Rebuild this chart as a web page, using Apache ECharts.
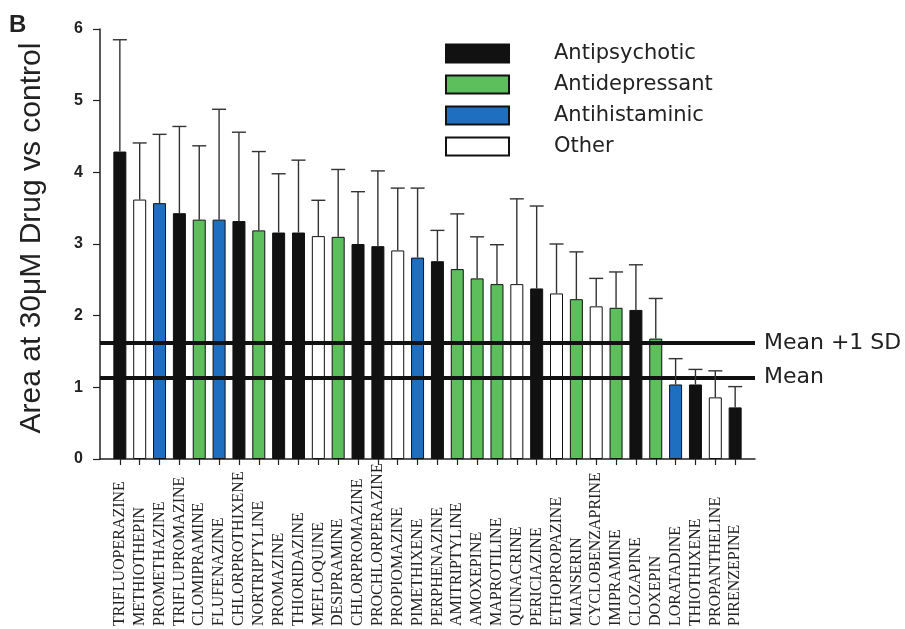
<!DOCTYPE html>
<html>
<head>
<meta charset="utf-8">
<script src="https://cdn.jsdelivr.net/npm/echarts@6/dist/echarts.min.js"></script>
<style>
  html, body { margin: 0; padding: 0; background: #fff; }
  #chart { width: 905px; height: 629px; }
</style>
</head>
<body>
<div id="chart"></div>
<script>
// 数据：药物名称、均值、误差上端、类别
var drugs = ['TRIFLUOPERAZINE', 'METHIOTHEPIN', 'PROMETHAZINE', 'TRIFLUPROMAZINE', 'CLOMIPRAMINE',
  'FLUFENAZINE', 'CHLORPROTHIXENE', 'NORTRIPTYLINE', 'PROMAZINE', 'THIORIDAZINE', 'MEFLOQUINE',
  'DESIPRAMINE', 'CHLORPROMAZINE', 'PROCHLORPERAZINE', 'PROPIOMAZINE', 'PIMETHIXENE', 'PERPHENAZINE',
  'AMITRIPTYLINE', 'AMOXEPINE', 'MAPROTILINE', 'QUINACRINE', 'PERICIAZINE', 'ETHOPROPAZINE',
  'MIANSERIN', 'CYCLOBENZAPRINE', 'IMIPRAMINE', 'CLOZAPINE', 'DOXEPIN', 'LORATADINE', 'THIOTHIXENE',
  'PROPANTHELINE', 'PIRENZEPINE'];
var means = [4.29, 3.62, 3.57, 3.43, 3.34, 3.34, 3.32, 3.19, 3.16, 3.16, 3.11, 3.10, 3.00, 2.97, 2.91,
  2.81, 2.76, 2.65, 2.52, 2.44, 2.44, 2.38, 2.31, 2.23, 2.13, 2.11, 2.08, 1.68, 1.04, 1.04, 0.86, 0.72];
var upper = [5.85, 4.41, 4.53, 4.64, 4.37, 4.88, 4.56, 4.29, 3.98, 4.17, 3.61, 4.04, 3.73, 4.02, 3.78,
  3.78, 3.19, 3.42, 3.10, 2.99, 3.63, 3.53, 3.00, 2.89, 2.52, 2.61, 2.71, 2.24, 1.40, 1.25, 1.23, 1.01];
// A=抗精神病, D=抗抑郁, H=抗组胺, O=其他
var drugClass = ['A', 'O', 'H', 'A', 'D', 'H', 'A', 'D', 'A', 'A', 'O', 'D', 'A', 'A', 'O', 'H', 'A',
  'D', 'D', 'D', 'O', 'A', 'O', 'D', 'O', 'D', 'A', 'D', 'H', 'A', 'O', 'A'];
var classKeys = ['A', 'D', 'H', 'O'];
var classNames = ['Antipsychotic', 'Antidepressant', 'Antihistaminic', 'Other'];
var classColors = ['#111111', '#5cbf5c', '#1f6fc0', '#ffffff'];
var yTicks = [0, 1, 2, 3, 4, 5, 6];
var refLines = [{ name: 'Mean +1 SD', value: 1.62 }, { name: 'Mean', value: 1.14 }];

// 两端各加一个空类目，让坐标轴两头留出空白
var axisData = [''].concat(drugs, ['']);

var eChart = echarts.init(document.getElementById('chart'));

var series = classKeys.map(function (key, k) {
  var data = [null];
  for (var i = 0; i < drugs.length; i++) {
    data.push(drugClass[i] === key ? means[i] : null);
  }
  data.push(null);
  return {
    name: classNames[k],
    type: 'bar',
    data: data,
    barWidth: 13,
    barGap: '-100%',
    itemStyle: { color: classColors[k], borderColor: '#111', borderWidth: 1 },
    z: 2
  };
});

// 误差线 + 均值线
series.push({
  type: 'custom',
  name: 'err',
  z: 5,
  data: drugs.map(function (d, i) { return [i + 1, means[i], upper[i]]; }),
  renderItem: function (params, api) {
    var bottom = api.coord([api.value(0), api.value(1)]);
    var top = api.coord([api.value(0), api.value(2)]);
    var half = 7;
    var style = { stroke: '#333', lineWidth: 1.4 };
    return {
      type: 'group',
      children: [
        { type: 'line', shape: { x1: bottom[0], y1: bottom[1], x2: top[0], y2: top[1] }, style: style },
        { type: 'line', shape: { x1: top[0] - half, y1: top[1], x2: top[0] + half, y2: top[1] }, style: style }
      ]
    };
  },
  markLine: {
    silent: true,
    symbol: 'none',
    lineStyle: { color: '#111', width: 4, type: 'solid' },
    label: {
      show: true,
      position: 'end',
      formatter: '{b}',
      fontFamily: 'DejaVu Sans',
      fontSize: 22,
      color: '#222',
      distance: 9
    },
    data: refLines.map(function (r, i) {
      return { name: r.name, yAxis: r.value, label: { padding: [0, 0, i === 0 ? 8 : 16, 0] } };
    })
  }
});

var option = {
  animation: false,
  backgroundColor: '#fff',
  title: {
    text: 'B',
    left: 4,
    top: 8,
    textStyle: { fontFamily: 'Liberation Sans', fontSize: 24, fontWeight: 'bold', color: '#222' }
  },
  legend: {
    orient: 'vertical',
    left: 440,
    top: 38,
    itemWidth: 63,
    itemHeight: 18,
    itemGap: 10,
    icon: 'rect',
    data: classNames,
    selectedMode: false,
    textStyle: {
      fontFamily: 'DejaVu Sans',
      fontSize: 21,
      color: '#222',
      padding: [0, 0, 0, 40]
    }
  },
  grid: { left: 100, right: 150, top: 29, bottom: 169 },
  xAxis: {
    type: 'category',
    data: axisData,
    boundaryGap: false,
    axisLine: { lineStyle: { color: '#222', width: 1.5 } },
    axisTick: {
      length: 6,
      lineStyle: { color: '#222', width: 1.2 },
      interval: function (index) { return index > 0 && index < axisData.length - 1; }
    },
    axisLabel: {
      interval: 0,
      rotate: 90,
      align: 'left',
      margin: 167,
      fontFamily: 'Liberation Serif',
      fontSize: 16,
      color: '#222'
    },
    splitLine: { show: false }
  },
  yAxis: {
    type: 'value',
    min: yTicks[0],
    max: yTicks[yTicks.length - 1],
    interval: 1,
    name: 'Area at 30μM Drug vs control',
    nameLocation: 'middle',
    nameGap: 53,
    nameTextStyle: { fontFamily: 'Liberation Sans', fontSize: 30, color: '#222', padding: [0, 0, 0, 12] },
    axisLine: { show: true, lineStyle: { color: '#222', width: 1.5 } },
    axisTick: { show: true, length: 7, lineStyle: { color: '#222', width: 1.2 } },
    axisLabel: {
      margin: 17,
      fontFamily: 'Liberation Sans',
      fontSize: 16,
      fontWeight: 'bold',
      color: '#222'
    },
    splitLine: { show: false }
  },
  series: series
};

eChart.setOption(option);
</script>
</body>
</html>
